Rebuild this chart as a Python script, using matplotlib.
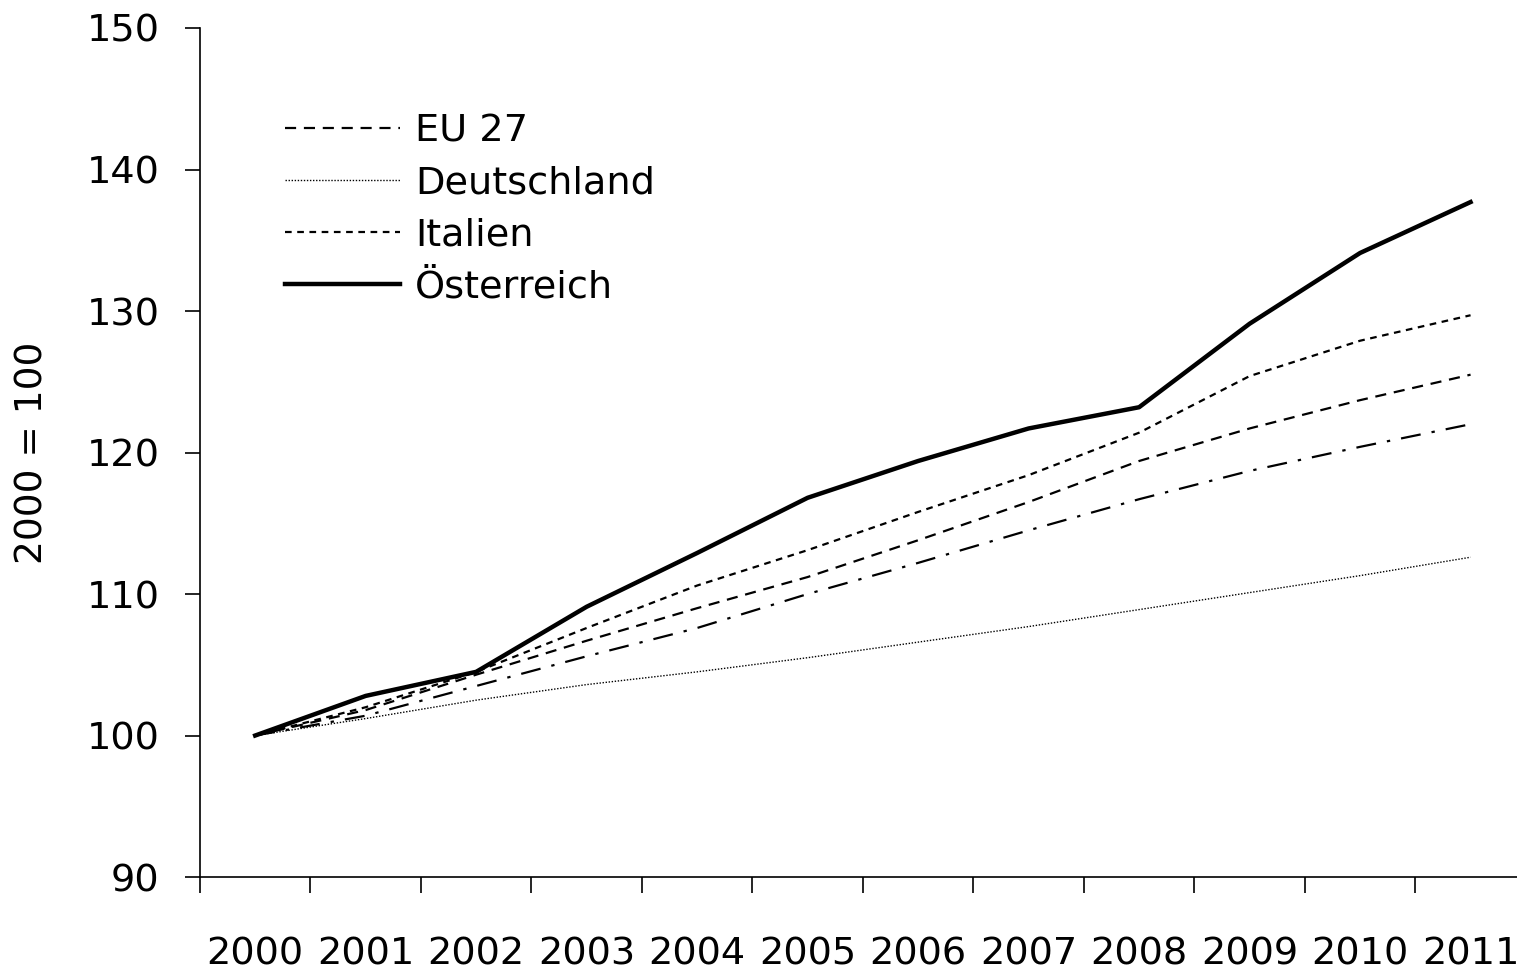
import matplotlib.pyplot as plt

jahre = ['2000', '2001', '2002', '2003', '2004', '2005', '2006', '2007', '2008', '2009', '2010', '2011']
oesterreich = [100, 102.8, 104.5, 109.1, 112.9, 116.8, 119.4, 121.7, 123.2, 129.1, 134.1, 137.7]
italien = [100, 102.0, 104.5, 107.6, 110.6, 113.1, 115.8, 118.4, 121.4, 125.4, 127.9, 129.7]
eu27 = [100, 101.8, 104.3, 106.7, 109.0, 111.2, 113.8, 116.5, 119.4, 121.7, 123.7, 125.5]
strich_punkt = [100, 101.4, 103.5, 105.6, 107.6, 110.0, 112.2, 114.5, 116.7, 118.7, 120.4, 122.0]
deutschland = [100, 101.2, 102.5, 103.6, 104.5, 105.5, 106.6, 107.7, 108.9, 110.1, 111.3, 112.6]

plt.rcParams['font.family'] = ['DejaVu Sans']

fig = plt.figure(figsize=(15.17, 9.72), dpi=100)
ax = fig.add_axes([0.1318, 0.0977, 0.874, 0.8735])

x = range(len(jahre))
ax.plot(x, eu27, color='black', lw=1.6, dashes=(5, 3.5), label='EU 27')
ax.plot(x, deutschland, color='black', lw=1.0, dashes=(1, 1.2), label='Deutschland')
ax.plot(x, italien, color='black', lw=1.6, dashes=(3, 2.5), label='Italien')
ax.plot(x, strich_punkt, color='black', lw=1.6, dashes=(9, 5, 1.5, 5))
ax.plot(x, oesterreich, color='black', lw=3.2, label='Österreich')

ax.set_xlim(-0.5, 11.5)
ax.set_ylim(90, 150)
ax.set_yticks(range(90, 151, 10))
ax.set_xticks([i - 0.5 for i in range(12)])
ax.set_xticklabels([])
ax.set_xticks(list(x), minor=True)
ax.set_xticklabels(jahre, minor=True)
ax.tick_params(axis='x', which='major', length=11.5, width=1.2, direction='out')
ax.tick_params(axis='x', which='minor', length=0, pad=43, labelsize=27.5)
ax.tick_params(axis='y', length=11, width=1.2, labelsize=27.5, pad=18)
for s in ['top', 'right']:
    ax.spines[s].set_visible(False)
for s in ['left', 'bottom']:
    ax.spines[s].set_linewidth(1.2)

ax.set_ylabel('2000 = 100', fontsize=27, labelpad=26)

ax.legend(loc='upper left', bbox_to_anchor=(0.053, 0.917), frameon=False, fontsize=27.5,
          handlelength=3.0, handletextpad=0.4, labelspacing=0.42, borderaxespad=0)

fig.savefig('out.png', dpi=100)
